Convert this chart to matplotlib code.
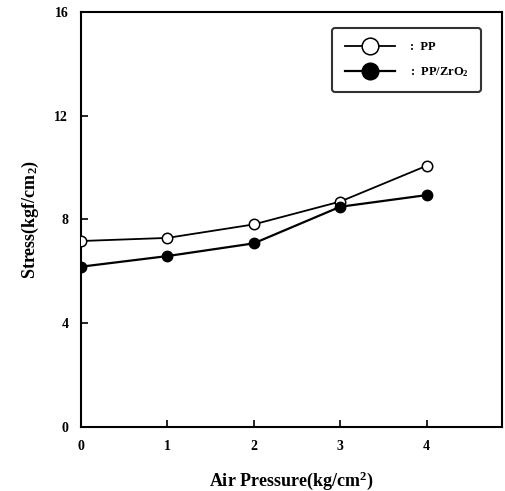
import numpy as np
import matplotlib
matplotlib.use("Agg")
from matplotlib import pyplot as plt

# data
pressure = [0, 1, 2, 3, 4]
stress_pp = [7.17, 7.29, 7.81, 8.69, 10.07]
stress_pp_zro2 = [6.18, 6.59, 7.08, 8.49, 8.94]
y_ticks = [0, 4, 8, 12, 16]

plt.rcParams['font.family'] = ['Liberation Serif', 'DejaVu Serif']
plt.rcParams['font.weight'] = 'bold'
plt.rcParams['mathtext.fontset'] = 'custom'
plt.rcParams['mathtext.rm'] = 'Liberation Serif:bold'
plt.rcParams['mathtext.default'] = 'rm'

fig = plt.figure(figsize=(5.05, 4.91), dpi=100)
ax = fig.add_axes([0.160, 0.130, 0.834, 0.846])

ax.plot(pressure, stress_pp, color='black', lw=1.3, marker='o', ms=7.5,
        mfc='white', mec='black', mew=1.1, label=':  PP', zorder=3)
ax.plot(pressure, stress_pp_zro2, color='black', lw=1.6, marker='o', ms=7.5,
        mfc='black', mec='black', label=':  PP/ZrO$_2$', zorder=3)

ax.set_xlim(0, 4.87)
ax.set_ylim(0, 16)
ax.set_xticks(pressure)
ax.set_yticks(y_ticks)
ax.tick_params(direction='in', length=5, width=1.2, labelsize=10, pad=9)
for s in ax.spines.values():
    s.set_linewidth(1.5)

ax.set_xlabel('Air Pressure(kg/cm$^2$)', fontsize=13, fontweight='bold', labelpad=12)
ax.set_ylabel('Stress(kgf/cm$_2$)', fontsize=13, fontweight='bold', labelpad=10)

leg = ax.legend(loc='upper right', bbox_to_anchor=(0.965, 0.975), fontsize=9,
                frameon=True, fancybox=True, edgecolor='black', markerscale=1.6,
                handlelength=4.0, handletextpad=1.2, borderpad=1.0, labelspacing=1.0)
leg.get_frame().set_linewidth(1.5)

fig.savefig('out.png', dpi=100)
